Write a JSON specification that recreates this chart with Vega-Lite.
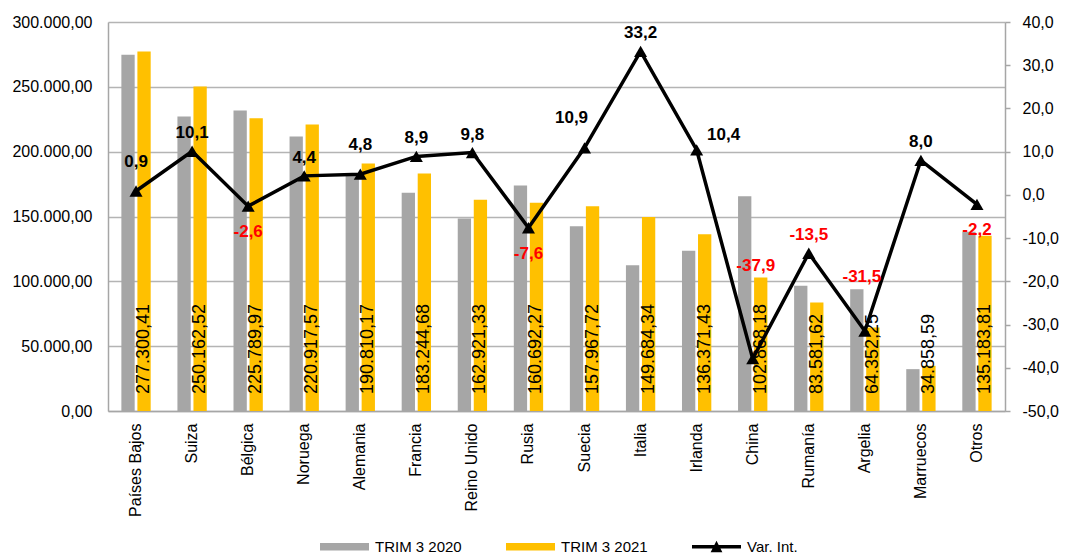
{
  "$schema": "https://vega.github.io/schema/vega-lite/v6.json",
  "autosize": {"type": "none"},
  "width": 897,
  "height": 389,
  "padding": {"left": 108, "top": 22, "right": 79, "bottom": 145},
  "background": "white",
  "config": {
    "locale": {"number": {"decimal": ",", "thousands": ".", "grouping": [3], "currency": ["", " €"], "minus": "-"}},
    "view": {"stroke": null},
    "font": "Liberation Sans",
    "axis": {"labelFont": "Liberation Sans", "labelFontSize": 16, "labelColor": "#000000", "domainColor": "#A6A6A6", "domainWidth": 1.5, "tickColor": "#A6A6A6", "tickWidth": 1.5, "gridColor": "#B4B4B4", "gridWidth": 1.5}
  },
  "datasets": {
    "barras": [
      {"pais": "Países Bajos", "serie": "TRIM 3 2020", "valor": 274827},
      {"pais": "Países Bajos", "serie": "TRIM 3 2021", "valor": 277300.41},
      {"pais": "Suiza", "serie": "TRIM 3 2020", "valor": 227214},
      {"pais": "Suiza", "serie": "TRIM 3 2021", "valor": 250162.52},
      {"pais": "Bélgica", "serie": "TRIM 3 2020", "valor": 231817},
      {"pais": "Bélgica", "serie": "TRIM 3 2021", "valor": 225789.97},
      {"pais": "Noruega", "serie": "TRIM 3 2020", "valor": 211607},
      {"pais": "Noruega", "serie": "TRIM 3 2021", "valor": 220917.57},
      {"pais": "Alemania", "serie": "TRIM 3 2020", "valor": 182071},
      {"pais": "Alemania", "serie": "TRIM 3 2021", "valor": 190810.17},
      {"pais": "Francia", "serie": "TRIM 3 2020", "valor": 168269},
      {"pais": "Francia", "serie": "TRIM 3 2021", "valor": 183244.68},
      {"pais": "Reino Unido", "serie": "TRIM 3 2020", "valor": 148380},
      {"pais": "Reino Unido", "serie": "TRIM 3 2021", "valor": 162921.33},
      {"pais": "Rusia", "serie": "TRIM 3 2020", "valor": 173909},
      {"pais": "Rusia", "serie": "TRIM 3 2021", "valor": 160692.27},
      {"pais": "Suecia", "serie": "TRIM 3 2020", "valor": 142441},
      {"pais": "Suecia", "serie": "TRIM 3 2021", "valor": 157967.72},
      {"pais": "Italia", "serie": "TRIM 3 2020", "valor": 112376},
      {"pais": "Italia", "serie": "TRIM 3 2021", "valor": 149684.34},
      {"pais": "Irlanda", "serie": "TRIM 3 2020", "valor": 123525},
      {"pais": "Irlanda", "serie": "TRIM 3 2021", "valor": 136371.43},
      {"pais": "China", "serie": "TRIM 3 2020", "valor": 165649},
      {"pais": "China", "serie": "TRIM 3 2021", "valor": 102868.18},
      {"pais": "Rumanía", "serie": "TRIM 3 2020", "valor": 96626},
      {"pais": "Rumanía", "serie": "TRIM 3 2021", "valor": 83581.62},
      {"pais": "Argelia", "serie": "TRIM 3 2020", "valor": 93945},
      {"pais": "Argelia", "serie": "TRIM 3 2021", "valor": 64352.25},
      {"pais": "Marruecos", "serie": "TRIM 3 2020", "valor": 32276},
      {"pais": "Marruecos", "serie": "TRIM 3 2021", "valor": 34858.59},
      {"pais": "Otros", "serie": "TRIM 3 2020", "valor": 138225},
      {"pais": "Otros", "serie": "TRIM 3 2021", "valor": 135183.81}
    ],
    "variacion": [
      {"pais": "Países Bajos", "var": 0.9},
      {"pais": "Suiza", "var": 10.1},
      {"pais": "Bélgica", "var": -2.6},
      {"pais": "Noruega", "var": 4.4},
      {"pais": "Alemania", "var": 4.8},
      {"pais": "Francia", "var": 8.9},
      {"pais": "Reino Unido", "var": 9.8},
      {"pais": "Rusia", "var": -7.6},
      {"pais": "Suecia", "var": 10.9},
      {"pais": "Italia", "var": 33.2},
      {"pais": "Irlanda", "var": 10.4},
      {"pais": "China", "var": -37.9},
      {"pais": "Rumanía", "var": -13.5},
      {"pais": "Argelia", "var": -31.5},
      {"pais": "Marruecos", "var": 8.0},
      {"pais": "Otros", "var": -2.2}
    ]
  },
  "layer": [
    {
      "data": {"name": "barras"},
      "layer": [
        {
          "mark": {"type": "bar"},
          "encoding": {
            "x": {"field": "pais", "type": "nominal", "title": null,
              "scale": {"domain": ["Países Bajos", "Suiza", "Bélgica", "Noruega", "Alemania", "Francia", "Reino Unido", "Rusia", "Suecia", "Italia", "Irlanda", "China", "Rumanía", "Argelia", "Marruecos", "Otros"], "paddingInner": 0.477, "paddingOuter": 0.2385},
              "axis": {"labelAngle": 270, "ticks": false, "labelPadding": 12, "domainColor": "#A6A6A6"}},
            "xOffset": {"field": "serie", "type": "nominal", "scale": {"domain": ["TRIM 3 2020", "TRIM 3 2021"], "paddingInner": 0.17, "paddingOuter": 0}},
            "y": {"field": "valor", "type": "quantitative", "title": null,
              "scale": {"domain": [0, 300000], "nice": false},
              "axis": {"values": [0, 50000, 100000, 150000, 200000, 250000, 300000], "format": ",.2f", "ticks": false, "labelPadding": 16, "grid": true}},
            "color": {"field": "serie", "type": "nominal", "title": null,
              "scale": {"domain": ["TRIM 3 2020", "TRIM 3 2021", "Var. Int."], "range": ["#A6A6A6", "#FFC000", "#000000"]},
              "legend": {"orient": "none", "legendX": 212, "legendY": 500, "direction": "horizontal", "columns": 3, "padding": 0, "columnPadding": 44,
                "symbolSize": 2401, "labelFont": "Liberation Sans", "labelFontSize": 15, "labelColor": "#000000", "labelOffset": 6,
                "encode": {"symbols": {"update": {
                  "shape": {"signal": "datum.value === 'Var. Int.' ? 'M-1,-0.07L1,-0.07L1,0.07L-1,0.07Z M-0.24,0.22L0,-0.24L0.24,0.22Z' : 'M-1,-0.15L1,-0.15L1,0.15L-1,0.15Z'"},
                  "fill": {"signal": "scale('color', datum.value)"},
                  "stroke": {"value": "transparent"},
                  "strokeWidth": {"value": 0},
                  "opacity": {"value": 1}}}}}}
          }
        },
        {
          "transform": [{"filter": "datum.serie === 'TRIM 3 2021'"}],
          "mark": {"type": "text", "angle": 270, "align": "left", "baseline": "middle", "dx": 17, "dy": 0, "fontSize": 18, "font": "Liberation Sans", "color": "#000000"},
          "encoding": {
            "x": {"field": "pais", "type": "nominal", "title": null},
            "xOffset": {"field": "serie", "type": "nominal"},
            "y": {"datum": 0, "type": "quantitative", "title": null},
            "text": {"field": "valor", "type": "quantitative", "format": ",.2f"}
          }
        }
      ]
    },
    {
      "data": {"name": "variacion"},
      "encoding": {
        "x": {"field": "pais", "type": "nominal", "title": null},
        "y": {"field": "var", "type": "quantitative", "title": null,
          "scale": {"domain": [-50, 40], "nice": false},
          "axis": {"orient": "right", "values": [-50, -40, -30, -20, -10, 0, 10, 20, 30, 40], "format": ".1f", "grid": false, "ticks": true, "tickSize": 5, "labelPadding": 12}}
      },
      "layer": [
        {
          "mark": {"type": "line", "strokeWidth": 3.5, "point": {"shape": "triangle-up", "size": 170, "filled": true}},
          "encoding": {"color": {"datum": "Var. Int."}}
        },
        {
          "transform": [{"filter": "indexof(['Suiza','Francia','Italia','Rumanía','Marruecos','Noruega','Reino Unido'], datum.pais) >= 0"}],
          "mark": {"type": "text", "fontSize": 17, "fontWeight": "bold", "baseline": "middle", "dy": -18},
          "encoding": {"text": {"field": "var", "type": "quantitative", "format": ".1f"},
            "color": {"condition": {"test": "datum['var'] < 0", "value": "#FF0000"}, "value": "#000000"}}
        },
        {
          "transform": [{"filter": "indexof(['Países Bajos','Alemania'], datum.pais) >= 0"}],
          "mark": {"type": "text", "fontSize": 17, "fontWeight": "bold", "baseline": "middle", "dy": -29},
          "encoding": {"text": {"field": "var", "type": "quantitative", "format": ".1f"},
            "color": {"condition": {"test": "datum['var'] < 0", "value": "#FF0000"}, "value": "#000000"}}
        },
        {
          "transform": [{"filter": "datum.pais === 'Suecia'"}],
          "mark": {"type": "text", "fontSize": 17, "fontWeight": "bold", "baseline": "middle", "dy": -30, "dx": -13},
          "encoding": {"text": {"field": "var", "type": "quantitative", "format": ".1f"},
            "color": {"condition": {"test": "datum['var'] < 0", "value": "#FF0000"}, "value": "#000000"}}
        },
        {
          "transform": [{"filter": "indexof(['Bélgica','Rusia','Otros'], datum.pais) >= 0"}],
          "mark": {"type": "text", "fontSize": 17, "fontWeight": "bold", "baseline": "middle", "dy": 26},
          "encoding": {"text": {"field": "var", "type": "quantitative", "format": ".1f"},
            "color": {"condition": {"test": "datum['var'] < 0", "value": "#FF0000"}, "value": "#000000"}}
        },
        {
          "transform": [{"filter": "datum.pais === 'Irlanda'"}],
          "mark": {"type": "text", "fontSize": 17, "fontWeight": "bold", "baseline": "middle", "dy": -15, "dx": 27},
          "encoding": {"text": {"field": "var", "type": "quantitative", "format": ".1f"},
            "color": {"condition": {"test": "datum['var'] < 0", "value": "#FF0000"}, "value": "#000000"}}
        },
        {
          "transform": [{"filter": "datum.pais === 'China'"}],
          "mark": {"type": "text", "fontSize": 17, "fontWeight": "bold", "baseline": "middle", "dy": -93, "dx": 3},
          "encoding": {"text": {"field": "var", "type": "quantitative", "format": ".1f"},
            "color": {"condition": {"test": "datum['var'] < 0", "value": "#FF0000"}, "value": "#000000"}}
        },
        {
          "transform": [{"filter": "datum.pais === 'Argelia'"}],
          "mark": {"type": "text", "fontSize": 17, "fontWeight": "bold", "baseline": "middle", "dy": -54, "dx": -3},
          "encoding": {"text": {"field": "var", "type": "quantitative", "format": ".1f"},
            "color": {"condition": {"test": "datum['var'] < 0", "value": "#FF0000"}, "value": "#000000"}}
        }
      ]
    }
  ],
  "resolve": {"scale": {"y": "independent"}, "axis": {"y": "independent"}}
}
